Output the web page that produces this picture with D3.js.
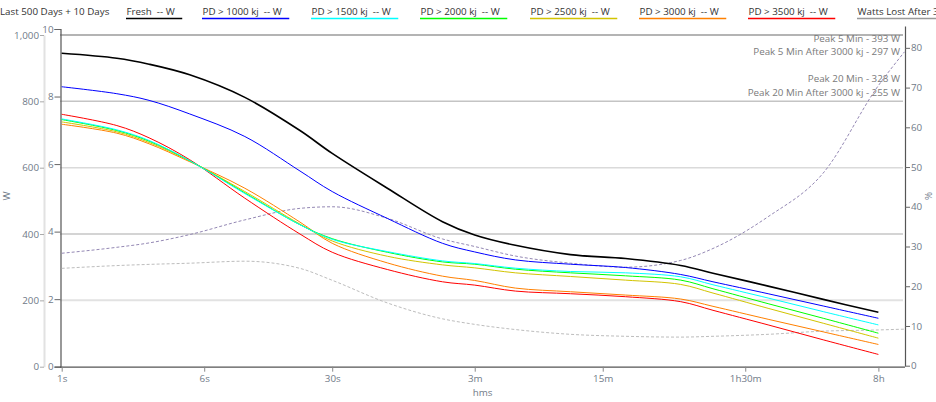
<!DOCTYPE html>
<html><head><meta charset="utf-8">
<script src="https://cdn.jsdelivr.net/npm/d3@7"></script>
<style>
body{margin:0;background:#fff;}
svg{font-family:"Open Sans",sans-serif;}
</style></head><body>
<svg id="c" width="936" height="402"></svg>
<script>
// ---- data ----
const times = [1,2,3,5,10,20,30,60,120,180,300,600,1200,2400,3600,7200,14400,28800];
const fresh  = [945,930,912,880,812,712,643,538,437,397,366,338,326,305,282,243,203,164];
const pd1000 = [844,823,803,762,694,590,528,447,372,346,322,309,299,278,256,220,183,146];
const pd1500 = [747,714,682,621,522,428,384,347,319,311,297,287,283,271,247,207,166,126];
const pd2000 = [745,712,680,621,524,428,386,345,316,309,294,283,274,261,235,190,146,101];
const pd2500 = [738,708,676,620,528,430,379,333,307,298,283,272,261,248,222,176,131,86];
const pd3000 = [731,704,672,618,538,436,372,313,273,260,237,226,216,204,182,143,105,67];
const pd3500 = [761,727,690,624,508,400,345,293,256,246,228,220,211,196,170,126,81,37];

const dashTimes = [1,2,3,5,10,20,30,60,120,180,300,600,1200,2400,3600,7200,14400,28800,40000];
const wattsLostPct = [28.3,29.8,30.9,33.0,36.7,39.6,40.0,37.1,31.9,30.0,27.6,25.8,24.8,26.5,29.5,37.5,48.5,70.5,79.0];
const otherPct     = [24.5,25.2,25.5,25.8,26.3,24.5,21.5,15.8,11.8,10.4,9.1,7.9,7.4,7.2,7.4,7.9,8.7,9.0,9.2];

const seriesNames = ["Fresh  -- W","PD > 1000 kj  -- W","PD > 1500 kj  -- W","PD > 2000 kj  -- W","PD > 2500 kj  -- W","PD > 3000 kj  -- W","PD > 3500 kj  -- W","Watts Lost After 3000 kj"];
const seriesColors = ["#000000","#0000ff","#00ffff","#00ff00","#d2c400","#ff8000","#ff0000","#999999"];
const legendTitle = "Last 500 Days + 10 Days";

const xTicks = [1,6,30,180,900,5400,28800];
const xTickLabels = ["1s","6s","30s","3m","15m","1h30m","8h"];
const wTicks = [0,200,400,600,800,1000];
const innerTicks = [0,2,4,6,8,10];
const pctTicks = [0,10,20,30,40,50,60,70,80];
const annotations = ["Peak 5 Min - 393 W","Peak 5 Min After 3000 kj - 297 W","Peak 20 Min - 328 W","Peak 20 Min After 3000 kj - 255 W"];

// ---- scales ----
const FS = "9.8px";
const svg = d3.select("#c");
const x = d3.scaleLog().domain([1, 40250]).range([61.7, 905]);
const yW = d3.scaleLinear().domain([0,1000]).range([366.7, 35]);
const yInner = d3.scaleLinear().domain([0,10]).range([366.7, 29]);
const yPct = d3.scaleLinear().domain([0,85.5]).range([365.7, 26]);

// gridlines
const gridStyles = {1000:["#b4b4b4",2],800:["#c4c4c4",1.5],600:["#dadada",1.5],400:["#c6c6c6",1.5],200:["#e2e2e2",2]};
svg.append("g").selectAll("line").data(wTicks.filter(d=>d>0)).join("line")
  .attr("x1",60).attr("x2",903)
  .attr("y1",d=>yW(d)).attr("y2",d=>yW(d))
  .attr("stroke",d=>gridStyles[d][0]).attr("stroke-width",d=>gridStyles[d][1]);

function styleText(g){ g.selectAll("text").attr("fill","#707a88").style("font-size",FS).style("font-family","Open Sans"); }

// axes
const gW = svg.append("g").attr("transform","translate(44,0)")
  .call(d3.axisLeft(yW).tickValues(wTicks).tickFormat(d3.format(",")).tickSize(4).tickSizeOuter(0).tickPadding(1));
gW.select(".domain").attr("stroke","#e2e2e2").attr("stroke-width",2);
gW.selectAll(".tick line").attr("stroke","#aaa");
styleText(gW);

const gI = svg.append("g").attr("transform","translate(60.5,0)")
  .call(d3.axisLeft(yInner).tickValues(innerTicks).tickSize(6).tickSizeOuter(6).tickPadding(1));
gI.select(".domain").attr("stroke","#555").attr("stroke-width",1.2);
gI.selectAll(".tick line").attr("stroke","#666");
styleText(gI);

const gX = svg.append("g").attr("transform","translate(0,366.7)")
  .call(d3.axisBottom(x).tickValues(xTicks).tickFormat((d,i)=>xTickLabels[i]).tickSize(5).tickSizeOuter(0).tickPadding(3));
gX.select(".domain").attr("stroke","#555").attr("stroke-width",1.2).attr("d","M60,0.5H905");
gX.selectAll(".tick line").attr("stroke","#888");
styleText(gX);

const gR = svg.append("g").attr("transform","translate(905,0)")
  .call(d3.axisRight(yPct).tickValues(pctTicks).tickSize(5).tickSizeOuter(0).tickPadding(1));
gR.select(".domain").attr("stroke","#555").attr("stroke-width",1.2);
gR.selectAll(".tick line").attr("stroke","#666");
styleText(gR);

// axis titles
svg.append("text").attr("transform","translate(10,196) rotate(-90)").attr("text-anchor","middle")
  .attr("fill","#707a88").style("font-size",FS).text("W");
svg.append("text").attr("transform","translate(925,196) rotate(90)").attr("text-anchor","middle")
  .attr("fill","#707a88").style("font-size",FS).text("%");
svg.append("text").attr("x",482.5).attr("y",396).attr("text-anchor","middle")
  .attr("fill","#707a88").style("font-size",FS).text("hms");

// dashed lines
const dashLine = d3.line().x((d,i)=>x(dashTimes[i])).y(d=>yPct(d)).curve(d3.curveMonotoneX);
svg.append("path").attr("d",dashLine(otherPct)).attr("fill","none").attr("stroke","#bdbdbd").attr("stroke-width",1).attr("stroke-dasharray","3,2");
svg.append("path").attr("d",dashLine(wattsLostPct)).attr("fill","none").attr("stroke","#9488b4").attr("stroke-width",1).attr("stroke-dasharray","3,2");

// series lines
const line = d3.line().x((d,i)=>x(times[i])).y(d=>yW(d)).curve(d3.curveCatmullRom.alpha(0.5));
const seriesData = [fresh,pd1000,pd1500,pd2000,pd2500,pd3000,pd3500];
for (let k = seriesData.length-1; k >= 0; k--) {
  svg.append("path").attr("d",line(seriesData[k])).attr("fill","none")
    .attr("stroke",seriesColors[k]).attr("stroke-width",k===0?1.6:1);
}

// annotations
const annY = [38.3,51,78.3,92.3];
svg.append("g").selectAll("text").data(annotations).join("text")
  .attr("x",900).attr("y",(d,i)=>annY[i]+3.6).attr("text-anchor","end")
  .attr("fill","#7a7a7a").style("font-size",FS).text(d=>d);

// legend
const lg = svg.append("g");
lg.append("text").attr("x",0).attr("y",15).attr("fill","#333").style("font-size",FS).text(legendTitle);
const legendX = [126,202,311,420,530,639,748,857];
seriesNames.forEach((n,i)=>{
  const t = lg.append("text").attr("x",legendX[i]+0.5).attr("y",15).attr("fill","#333")
    .style("font-size",FS).style("white-space","pre").attr("xml:space","preserve").text(n);
  const w = t.node().getComputedTextLength();
  lg.append("line").attr("x1",legendX[i]).attr("x2",legendX[i]+w+8).attr("y1",18.5).attr("y2",18.5)
    .attr("stroke",seriesColors[i]).attr("stroke-width",1.5);
});
</script></body></html>
